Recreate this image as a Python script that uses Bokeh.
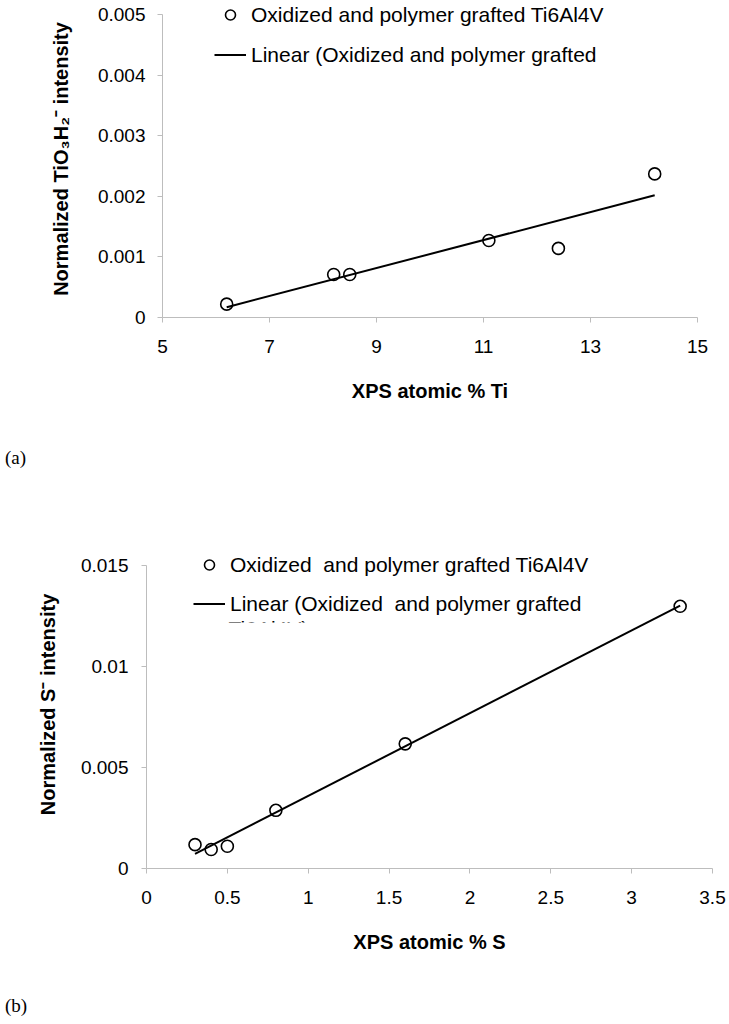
import numpy as np
from bokeh.plotting import figure
from bokeh.models import (Range1d, FixedTicker, Legend, LegendItem, Label,
                          BoxAnnotation, Div)
from bokeh.embed import file_html
from bokeh.resources import INLINE

# ---------------- data: panel (a) ----------------
a_ti_pct = [6.2, 8.2, 8.5, 11.1, 12.4, 14.2]
a_intensity = [0.00022, 0.00071, 0.00071, 0.00127, 0.00114, 0.00237]
a_xticks = [5, 7, 9, 11, 13, 15]
a_yticks = [0, 0.001, 0.002, 0.003, 0.004, 0.005]
a_ytick_labels = ["0", "0.001", "0.002", "0.003", "0.004", "0.005"]
a_legend_labels = ["Oxidized and polymer grafted Ti6Al4V",
                   "Linear (Oxidized and polymer grafted"]

# ---------------- data: panel (b) ----------------
b_s_pct = [0.3, 0.4, 0.5, 0.8, 1.6, 3.3]
b_intensity = [0.00118, 0.00094, 0.00110, 0.00288, 0.00617, 0.01298]
b_xticks = [0, 0.5, 1, 1.5, 2, 2.5, 3, 3.5]
b_xtick_labels = ["0", "0.5", "1", "1.5", "2", "2.5", "3", "3.5"]
b_yticks = [0, 0.005, 0.01, 0.015]
b_ytick_labels = ["0", "0.005", "0.01", "0.015"]
b_legend_labels = ["Oxidized  and polymer grafted Ti6Al4V",
                   "Linear (Oxidized  and polymer grafted"]
b_legend_overflow = "Ti6Al4V)"

SANS = "Liberation Sans"
SERIF = "Liberation Serif"
AXIS_GRAY = "#bdbdbd"


def style_axes(p, xlab_standoff, ylab_standoff, xtitle_standoff, ytitle_standoff):
    for ax in (p.xaxis[0], p.yaxis[0]):
        ax.axis_line_color = AXIS_GRAY
        ax.axis_line_width = 1
        ax.major_tick_line_color = AXIS_GRAY
        ax.minor_tick_line_color = None
        ax.major_tick_in = 0
        ax.major_tick_out = 5
        ax.major_label_text_font = SANS
        ax.major_label_text_font_size = "19px"
        ax.major_label_text_color = "black"
        ax.axis_label_text_font = SANS
        ax.axis_label_text_font_style = "bold"
        ax.axis_label_text_font_size = "20px"
        ax.axis_label_text_color = "black"
    p.xaxis[0].major_label_standoff = xlab_standoff
    p.yaxis[0].major_label_standoff = ylab_standoff
    p.xaxis[0].axis_label_standoff = xtitle_standoff
    p.yaxis[0].axis_label_standoff = ytitle_standoff
    p.xgrid.grid_line_color = None
    p.ygrid.grid_line_color = None
    p.outline_line_color = None
    p.background_fill_color = "white"
    p.border_fill_color = "white"


def add_series(p, xs, ys):
    sc = p.scatter(xs, ys, marker="circle", size=12, fill_color=None,
                   line_color="black", line_width=1.6)
    coef = np.polyfit(xs, ys, 1)
    fx = [min(xs), max(xs)]
    ln = p.line(fx, list(np.polyval(coef, fx)), line_color="black", line_width=2)
    return sc, ln


def add_legend(p, renderers, labels, loc, spacing):
    items = [LegendItem(label=l, renderers=[r]) for l, r in zip(labels, renderers)]
    leg = Legend(items=items, location=loc, orientation="vertical",
                 glyph_width=32, glyph_height=25, label_height=25,
                 label_standoff=5, spacing=spacing, padding=0, margin=0,
                 label_text_font=SANS, label_text_font_size="21px",
                 label_text_color="black",
                 background_fill_alpha=0, border_line_alpha=0)
    p.add_layout(leg)


def panel_label(text, height, line_height):
    return Div(text=text, width=729, height=height, margin=0,
               styles={"font-family": "'Liberation Serif', serif",
                       "font-size": "19px", "line-height": f"{line_height}px",
                       "padding-left": "5px", "color": "black",
                       "overflow": "hidden"})


# ---------------- figure (a) ----------------
# the frame reaches above the top tick so the legend is not clipped;
# the axis itself is bounded to the tick range
A_AXIS_PX, A_FRAME_PX = 303, 317
pa = figure(frame_width=535, frame_height=A_FRAME_PX,
            min_border_left=162, min_border_right=32,
            min_border_top=0, min_border_bottom=123,
            x_range=Range1d(a_xticks[0], a_xticks[-1]),
            y_range=Range1d(0, a_yticks[-1] * A_FRAME_PX / A_AXIS_PX),
            toolbar_location=None, output_backend="svg",
            x_axis_label="XPS atomic % Ti",
            y_axis_label="Normalized TiO\u2083H\u2082\u207b intensity")
pa.xaxis.ticker = FixedTicker(ticks=a_xticks)
pa.yaxis.ticker = FixedTicker(ticks=a_yticks)
pa.yaxis.bounds = (a_yticks[0], a_yticks[-1])
pa.yaxis.major_label_overrides = {t: s for t, s in zip(a_yticks, a_ytick_labels)}
style_axes(pa, 17, 12, 24, 23)
sa, la = add_series(pa, a_ti_pct, a_intensity)
add_legend(pa, [sa, la], a_legend_labels, (52, 250), 15)

# ---------------- figure (b) ----------------
B_AXIS_PX, B_FRAME_PX = 303, 328
pb = figure(frame_width=566, frame_height=B_FRAME_PX,
            min_border_left=146, min_border_right=15,
            min_border_top=60, min_border_bottom=122,
            x_range=Range1d(b_xticks[0], b_xticks[-1]),
            y_range=Range1d(0, b_yticks[-1] * B_FRAME_PX / B_AXIS_PX),
            toolbar_location=None, output_backend="svg",
            x_axis_label="XPS atomic % S",
            y_axis_label="Normalized S\u207b intensity")
pb.xaxis.ticker = FixedTicker(ticks=b_xticks)
pb.yaxis.ticker = FixedTicker(ticks=b_yticks)
pb.yaxis.bounds = (b_yticks[0], b_yticks[-1])
pb.xaxis.major_label_overrides = {t: s for t, s in zip(b_xticks, b_xtick_labels)}
pb.yaxis.major_label_overrides = {t: s for t, s in zip(b_yticks, b_ytick_labels)}
style_axes(pb, 17, 13, 24, 19)
sb, lb = add_series(pb, b_s_pct, b_intensity)
add_legend(pb, [sb, lb], b_legend_labels, (47, 252), 14)
# third, clipped line of the second legend label
pb.add_layout(Label(x=0.507, y=0.012475, text=b_legend_overflow,
                    text_font=SANS, text_font_size="21px",
                    text_baseline="top", text_color="black"))
pb.add_layout(BoxAnnotation(left=0.4885, right=1.694, top=0.01218, bottom=0.01129,
                            fill_color="white", fill_alpha=1.0,
                            line_color=None, line_alpha=0))

div_a = panel_label("(a)", 40, 36)
div_b = panel_label("(b)", 30, 32)

open("out.html", "w").write(file_html([pa, div_a, pb, div_b], INLINE))
